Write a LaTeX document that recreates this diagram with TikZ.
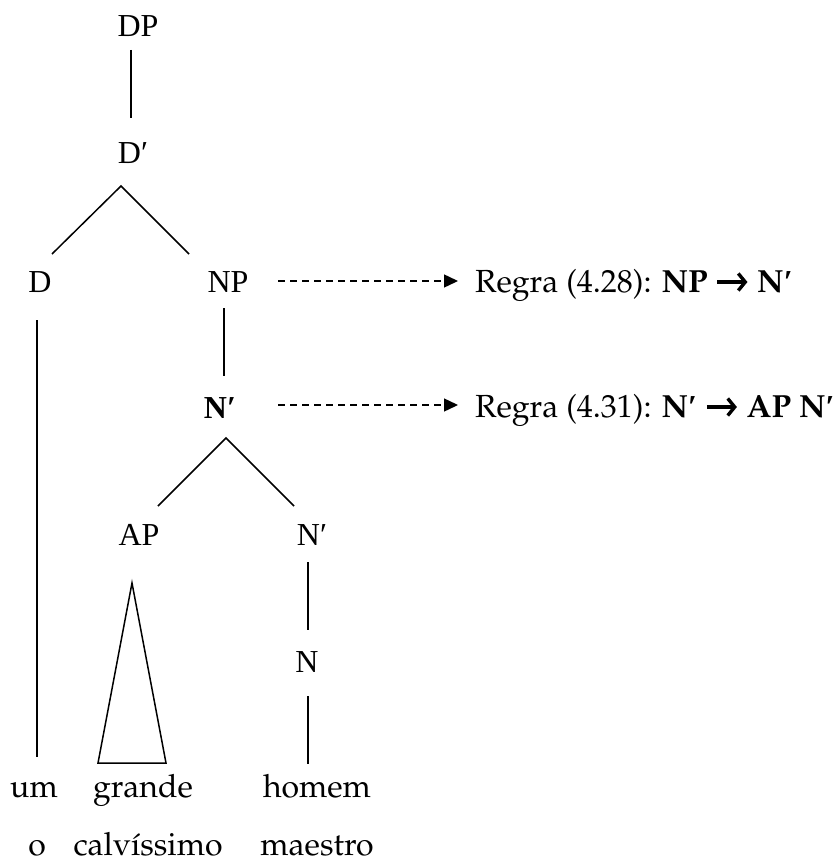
\documentclass[tikz,border=0pt]{standalone}
\usepackage{fontspec}
\setmainfont{Liberation Serif}
\newfontfamily\libser{Liberation Serif}
\usepackage[T1,TU]{fontenc}
\usetikzlibrary{arrows.meta}
\newcommand\palfont{\fontencoding{T1}\fontfamily{ppl}\selectfont}
\newcommand\prm{{\libser\bfseries ′}}
\newcommand\barrow{\tikz[baseline={(0pt,-10pt)}]\draw[line width=3.4pt,-{Straight Barb[length=7pt,width=17pt]}](0pt,0pt)--(30pt,0pt);}
\tikzset{
  tl/.style={font=\fontsize{32}{38}\selectfont, anchor=base, inner sep=0pt},
  wd/.style={font=\palfont\fontsize{32}{38}\selectfont, anchor=base, inner sep=0pt},
  rule/.style={font=\palfont\fontsize{32}{38}\selectfont, anchor=base west, inner sep=0pt},
  br/.style={line width=1.5pt},
  dsh/.style={line width=1.4pt, dash pattern=on 7pt off 5pt, -{Triangle[length=14pt,width=13pt]}}
}
\begin{document}
\begin{tikzpicture}[x=1pt,y=-1pt]
\useasboundingbox (0,0) rectangle (838,864);
% labels
\node[tl] (DP) at (138,37) {DP};
\node[tl] (Dbar) at (133,163) {D′};
\node[tl] (D) at (40,292) {D};
\node[tl] (NP) at (228,292) {NP};
\node[tl] (Nbarb) at (220,418) {\bfseries N′};
\node[tl] (AP) at (139,545) {AP};
\node[tl] (Nbar) at (312,545) {N′};
\node[tl] (N) at (307,672) {N};
\node[wd] (um) at (34,797) {um};
\node[wd] (grande) at (143,797) {grande};
\node[wd] (homem) at (317,797) {homem};
\node[wd] (o) at (37,855) {o};
\node[wd] (calv) at (148,855) {calv\'{\i}ssimo};
\node[wd] (maestro) at (317,855) {maestro};
\node[rule] (R1) at (475,292) {Regra (4.28): {\bfseries NP \barrow\ N\prm}};
\node[rule] (R2) at (475,417) {Regra (4.31): {\bfseries N\prm\ \barrow\ AP N\prm}};
% endpoints
\coordinate (dpS) at (131,50);
\coordinate (dbN) at (131,118);
\coordinate (dbS) at (121,186);
\coordinate (dN) at (52,254);
\coordinate (npN) at (189,254);
\coordinate (dS) at (37,320);
\coordinate (umN) at (37,757);
\coordinate (npS) at (224,308);
\coordinate (nbN) at (224,376);
\coordinate (nbS) at (226,438);
\coordinate (apN) at (158,506);
\coordinate (nN) at (294,506);
\coordinate (triA) at (132,583);
\coordinate (triL) at (98,763);
\coordinate (triR) at (166,763);
\coordinate (nbarS) at (308,562);
\coordinate (nTop) at (308,630);
\coordinate (nS) at (308,696);
\coordinate (hmN) at (308,764);
\coordinate (a1s) at (278,281);
\coordinate (a1e) at (458,281);
\coordinate (a2s) at (278,405);
\coordinate (a2e) at (458,405);
% branches
\draw[br] (dpS) -- (dbN);
\draw[br] (dN) -- (dbS) -- (npN);
\draw[br] (dS) -- (umN);
\draw[br] (npS) -- (nbN);
\draw[br] (apN) -- (nbS) -- (nN);
\draw[br] (triA) -- (triL) -- (triR) -- cycle;
\draw[br] (nbarS) -- (nTop);
\draw[br] (nS) -- (hmN);
\draw[dsh] (a1s) -- (a1e);
\draw[dsh] (a2s) -- (a2e);
\end{tikzpicture}
\end{document}
